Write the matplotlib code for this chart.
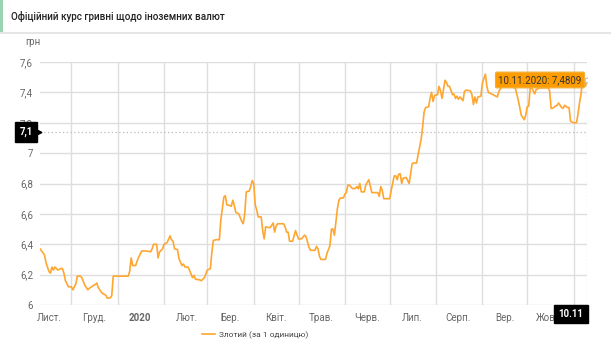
import datetime as dt

import matplotlib

matplotlib.use("Agg")
import matplotlib.pyplot as plt
from matplotlib.lines import Line2D
from matplotlib.patches import Rectangle

plt.rcParams["font.family"] = ["Roboto", "DejaVu Sans"]

START_DATE = dt.date(2019, 11, 10)

# days since START_DATE and UAH per 1 zloty
DAYS = [
    0, 3, 4, 6, 7, 8, 9, 10, 12, 14, 15, 16, 17, 19, 21, 22, 24, 25, 27, 28,
    30, 32, 33, 36, 37, 38, 39, 41, 42, 44, 45, 47, 48, 49, 51, 59, 60, 61, 62, 64,
    65, 66, 68, 71, 74, 75, 76, 78, 79, 80, 82, 83, 85, 87, 88, 89, 90, 92, 93, 95,
    96, 97, 99, 100, 102, 103, 104, 107, 108, 110, 112, 114, 115, 116, 118, 120, 121, 123, 124, 125,
    127, 128, 129, 130, 131, 133, 135, 136, 137, 138, 140, 141, 142, 143, 144, 145, 146, 148, 149, 150,
    151, 153, 154, 156, 157, 158, 159, 163, 164, 165, 166, 167, 169, 171, 172, 173, 175, 177, 178, 180,
    181, 184, 185, 186, 187, 188, 191, 192, 194, 195, 196, 197, 198, 199, 200, 201, 203, 204, 205, 206,
    207, 209, 211, 212, 213, 214, 215, 217, 218, 220, 222, 224, 226, 227, 228, 229, 230, 234, 235, 237,
    238, 239, 240, 241, 242, 243, 245, 247, 248, 249, 250, 252, 253, 255, 256, 257, 258, 260, 261, 262,
    263, 264, 266, 267, 268, 269, 271, 272, 273, 274, 276, 277, 278, 279, 280, 281, 283, 284, 285, 288,
    289, 290, 291, 292, 293, 295, 296, 298, 299, 300, 303, 305, 306, 307, 309, 312, 315, 317, 318, 320,
    322, 324, 325, 326, 327, 328, 329, 331, 332, 335, 340, 341, 342, 343, 345, 346, 347, 349, 350, 351,
    353, 354, 355, 357, 359, 360, 361, 362, 363, 364, 365, 366,
]
RATES = [
    6.37, 6.33, 6.28, 6.22, 6.21, 6.25, 6.23, 6.25, 6.23, 6.24, 6.24, 6.21, 6.16, 6.12, 6.12, 6.10, 6.14, 6.19, 6.19, 6.18,
    6.13, 6.10, 6.11, 6.13, 6.135, 6.145, 6.115, 6.085, 6.075, 6.065, 6.045, 6.047, 6.06, 6.19, 6.19, 6.19, 6.22, 6.31, 6.26, 6.26,
    6.29, 6.315, 6.355, 6.356, 6.35, 6.37, 6.40, 6.40, 6.31, 6.35, 6.37, 6.40, 6.41, 6.455, 6.43, 6.42, 6.37, 6.365, 6.305, 6.26,
    6.27, 6.25, 6.25, 6.23, 6.18, 6.195, 6.17, 6.165, 6.16, 6.18, 6.23, 6.24, 6.35, 6.425, 6.43, 6.43, 6.56, 6.71, 6.72, 6.66,
    6.655, 6.65, 6.69, 6.655, 6.61, 6.60, 6.55, 6.535, 6.60, 6.745, 6.75, 6.78, 6.82, 6.80, 6.66, 6.625, 6.58, 6.58, 6.49, 6.435,
    6.515, 6.51, 6.51, 6.54, 6.48, 6.52, 6.535, 6.535, 6.515, 6.48, 6.48, 6.42, 6.42, 6.49, 6.46, 6.435, 6.435, 6.46, 6.45, 6.38,
    6.36, 6.36, 6.386, 6.37, 6.32, 6.30, 6.30, 6.34, 6.39, 6.50, 6.50, 6.46, 6.55, 6.635, 6.69, 6.705, 6.705, 6.73, 6.74, 6.79,
    6.79, 6.767, 6.767, 6.78, 6.765, 6.80, 6.745, 6.745, 6.79, 6.825, 6.74, 6.74, 6.74, 6.715, 6.78, 6.755, 6.70, 6.70, 6.755, 6.85,
    6.85, 6.825, 6.86, 6.865, 6.80, 6.835, 6.84, 6.80, 6.865, 6.93, 6.935, 6.935, 6.99, 7.09, 7.17, 7.27, 7.30, 7.305, 7.36, 7.40,
    7.34, 7.38, 7.385, 7.44, 7.41, 7.36, 7.48, 7.465, 7.44, 7.44, 7.385, 7.39, 7.36, 7.375, 7.355, 7.37, 7.345, 7.405, 7.415, 7.41,
    7.385, 7.32, 7.37, 7.33, 7.37, 7.375, 7.46, 7.52, 7.44, 7.40, 7.385, 7.375, 7.37, 7.405, 7.44, 7.46, 7.46, 7.43, 7.43, 7.35,
    7.25, 7.22, 7.25, 7.305, 7.31, 7.43, 7.43, 7.39, 7.42, 7.43, 7.43, 7.41, 7.295, 7.295, 7.31, 7.315, 7.33, 7.30, 7.295, 7.315,
    7.30, 7.30, 7.21, 7.20, 7.20, 7.26, 7.33, 7.39, 7.48, 7.47, 7.44, 7.4809,
]

Y_TICKS = [6.0, 6.2, 6.4, 6.6, 6.8, 7.0, 7.2, 7.4, 7.6]
Y_TICK_LABELS = ["6", "6,2", "6,4", "6,6", "6,8", "7", "7,2", "7,4", "7,6"]
MONTH_LABELS = ["Лист.", "Груд.", "2020", "Лют.", "Бер.", "Квіт.",
                "Трав.", "Черв.", "Лип.", "Серп.", "Вер.", "Жовт."]
MONTH_STARTS = [(2019, 11)] + [(2019, 12)] + [(2020, m) for m in range(1, 12)]

TITLE = "Офіційний курс гривні щодо іноземних валют"
SERIES_NAME = "Злотий (за 1 одиницю)"
CROSSHAIR_VALUE = 7.14
CROSSHAIR_LABEL = "7,1"
TOOLTIP = "10.11.2020: 7,4809"
DATE_LABEL = "10.11"

LINE_COLOR = "#ffa630"
GRID_COLOR = "#dedede"
TEXT_COLOR = "#666666"

dates = [START_DATE + dt.timedelta(days=d) for d in DAYS]
end_date = dates[-1]

fig = plt.figure(figsize=(6.11, 3.5), dpi=100)
W, H = 611, 350

# header box
fig.add_artist(Line2D([0, 1], [1 - 32.5 / H] * 2, transform=fig.transFigure,
                      color="#e0e0e0", lw=1.2))
fig.add_artist(Rectangle((0, 1 - 32 / H), 2.5 / W, 32 / H, transform=fig.transFigure,
                         color="#9ad3b0", lw=0))
fig.text(11 / W, 1 - 16 / H, TITLE, fontsize=7.1, color="#222222", va="center",
         ha="left", weight="medium")

ax = fig.add_axes([40 / W, 45 / H, 547 / W, 243 / H])
ax.plot(dates, RATES, color=LINE_COLOR, lw=1.2, zorder=3, label=SERIES_NAME)
ax.plot([end_date], [RATES[-1]], marker="o", ms=3.5, mfc="white", mec="#bbbbbb",
        mew=0.8, zorder=4)

ax.set_ylim(6.0, 7.6)
ax.set_xlim(START_DATE - dt.timedelta(days=0.7), end_date)
ax.set_yticks(Y_TICKS)
ax.set_yticklabels(Y_TICK_LABELS)

grid_dates = [dt.date(y, m, 1) for y, m in MONTH_STARTS[1:]]
for g in grid_dates:
    ax.axvline(g, color=GRID_COLOR, lw=1.0, zorder=1)
for y in Y_TICKS:
    ax.axhline(y, color=GRID_COLOR, lw=1.0, zorder=1)

label_dates = [dt.date(y, m, 16) for y, m in MONTH_STARTS[:-1]]
ax.set_xticks(label_dates)
ax.set_xticklabels(MONTH_LABELS)
for lbl in ax.get_xticklabels():
    if lbl.get_text() == "2020":
        lbl.set_fontweight("bold")
        lbl.set_color("#333333")

ax.tick_params(axis="both", length=0, labelsize=7, colors=TEXT_COLOR)
ax.tick_params(axis="x", pad=6)
ax.tick_params(axis="y", pad=5)
for s in ax.spines.values():
    s.set_visible(False)

ax.text(-0.0, 1.06, "грн", transform=ax.transAxes, fontsize=7, color=TEXT_COLOR,
        ha="right", va="bottom")

# crosshair
ax.axhline(CROSSHAIR_VALUE, color="#bbbbbb", lw=0.9, ls=(0, (1, 2)), zorder=2)
ax.axvline(end_date, color="#bbbbbb", lw=0.9, ls=(0, (1, 2)), zorder=2)

fig.text(26 / W, 1 - 132 / H, CROSSHAIR_LABEL, fontsize=7, color="white",
         weight="bold", ha="center", va="center",
         bbox=dict(boxstyle="square,pad=0.45", fc="black", ec="black"))
fig.add_artist(Line2D([39 / W], [1 - 132 / H], marker=">", ms=3.5, color="black",
                      transform=fig.transFigure))
fig.text(571 / W, 1 - 314 / H, DATE_LABEL, fontsize=7, color="white",
         weight="bold", ha="center", va="center",
         bbox=dict(boxstyle="square,pad=0.45", fc="black", ec="black"))

fig.text(540 / W, 1 - 80 / H, TOOLTIP, fontsize=7, color="#333333",
         ha="center", va="center",
         bbox=dict(boxstyle="round,pad=0.3,rounding_size=0.15", fc="#ff9d00",
                   ec="#f0b040", lw=0.8))

fig.legend(loc="center", bbox_to_anchor=(255 / W, 15 / H), frameon=False,
           fontsize=6.0, handlelength=1.6, handletextpad=0.5,
           labelcolor="#444444")

fig.savefig("out.png", dpi=100)
